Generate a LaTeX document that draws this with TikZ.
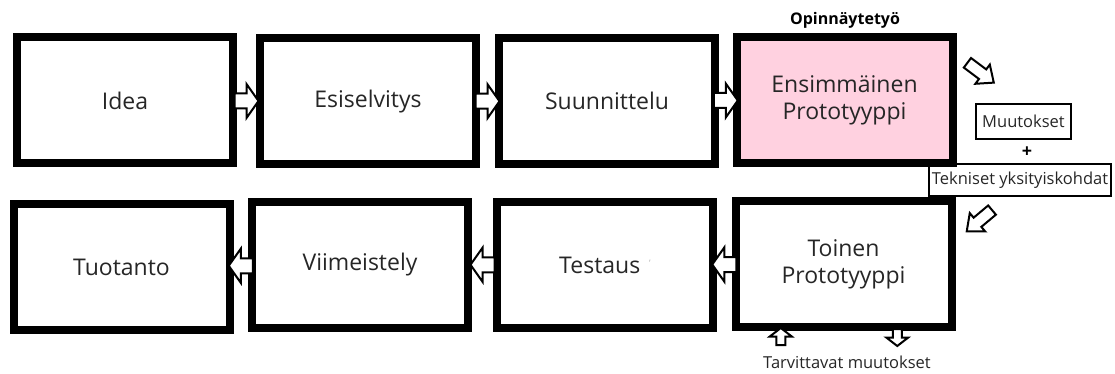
\documentclass[tikz,border=0pt]{standalone}
\usepackage{fontspec}
\setmainfont{Open Sans}
\usetikzlibrary{calc}
\definecolor{protopink}{RGB}{255,209,224}
\definecolor{inktext}{RGB}{38,38,38}
\tikzset{
  stage/.style={draw=black, line width=8pt, minimum width=216pt, minimum height=126pt,
    inner sep=0pt, align=center, text=inktext, font=\fontsize{23}{27}\selectfont},
  note/.style={draw=black, line width=1.6pt, inner sep=0pt, text=inktext,
    font=\fontsize{16.5}{20}\selectfont},
  plain/.style={inner sep=0pt, text=inktext, font=\fontsize{16.5}{20}\selectfont},
  arrowline/.style={draw=black, line width=2pt, fill=white, line join=miter},
  % hollow block arrow between two stages
  pics/flowarrow/.style={code={
    \path[arrowline] (-12,-7.5) -- (0,-7.5) -- (0,-17) -- (12,0) -- (0,17) -- (0,7.5) -- (-12,7.5) -- cycle;}},
  % slanted arrow next to the notes
  pics/sidearrow/.style={code={
    \path[arrowline] (-17,-6) -- (2,-6) -- (2,-12) -- (16,0) -- (2,12) -- (2,6) -- (-17,6) -- cycle;}},
  % small arrow under the second prototype
  pics/smallarrow/.style={code={
    \path[arrowline] (-8.5,-4.5) -- (0,-4.5) -- (0,-11) -- (8.5,0) -- (0,11) -- (0,4.5) -- (-8.5,4.5) -- cycle;}},
}
\begin{document}
\begin{tikzpicture}[x=1pt, y=-1pt]
\useasboundingbox (0,0) rectangle (1115,374);

% upper row
\node[stage] (idea) at (125,100.5) {Idea};
\node[stage] (esi)  at (368,101.5) {Esiselvitys};
\node[stage] (suun) at (607,101) {Suunnittelu};
\node[stage, fill=protopink] (proto1) at (844.5,100) {Ensimmäinen\\Prototyyppi};
\node[font=\bfseries\fontsize{16}{19}\selectfont, text=black, inner sep=0pt] (thesis) at (845,20) {Opinnäytetyö};

% lower row
\node[stage] (tuot)   at (121.5,267) {Tuotanto};
\node[stage] (viim)   at (360,264.5) {Viimeistely};
\node[stage] (test)   at (605,265) {Testaus\hspace{9pt}\raisebox{7pt}{\fontsize{9}{9}\selectfont\color{black!30}'}};
\node[stage] (proto2) at (843.5,264) {Toinen\\Prototyyppi};

% notes on the right
\node[note, minimum width=95pt, minimum height=35pt] (muut) at (1023.5,121.5) {Muutokset};
\node[font=\bfseries\fontsize{18}{20}\selectfont, text=black, inner sep=0pt] (plus) at (1027,152) {+};
\node[note, minimum width=182pt, minimum height=32pt] (tekn) at (1020,180) {Tekniset yksityiskohdat};
\node[plain] (tarv) at (847,362) {Tarvittavat muutokset};

% flow arrows
\pic at ($(idea.east)!0.5!(esi.west)$) {flowarrow};
\pic at ($(esi.east)!0.5!(suun.west)$) {flowarrow};
\pic at ($(suun.east)!0.5!(proto1.west)$) {flowarrow};
\pic[rotate=180] at ($(proto2.west)!0.5!(test.east)$) {flowarrow};
\pic[rotate=180] at ($(test.west)!0.5!(viim.east)$) {flowarrow};
\pic[rotate=180] at ($(viim.west)!0.5!(tuot.east)$) {flowarrow};

% arrows around the notes
\pic[rotate=-37] at (981,73) {sidearrow};
\pic[rotate=220] at (979,221) {sidearrow};
\pic[rotate=90]  at ($(proto2.south west)!0.22!(proto2.south east)+(0,5.5)$) {smallarrow};
\pic[rotate=-90] at ($(proto2.south west)!0.74!(proto2.south east)+(0,6.5)$) {smallarrow};
\end{tikzpicture}
\end{document}
